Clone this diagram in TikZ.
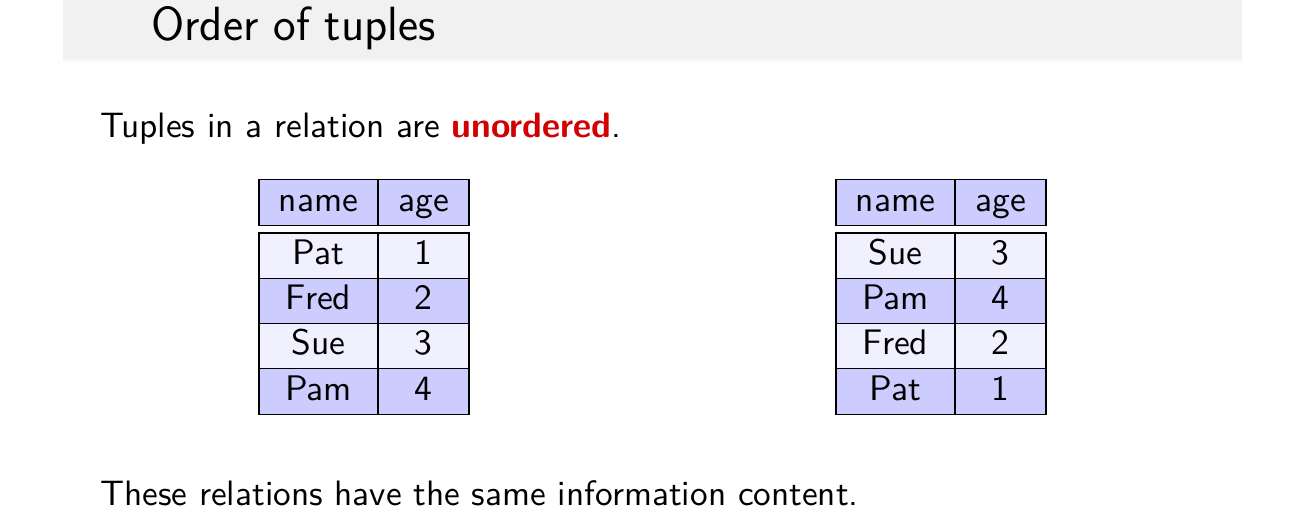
\documentclass[tikz,border=0pt]{standalone}
\usepackage{fontspec}
\newfontfamily\tenss[Extension=.otf,BoldFont=lmsans10-bold]{lmsans10-regular}
\usetikzlibrary{positioning}
\definecolor{barbg}{gray}{0.945}
\definecolor{hdr}{RGB}{204,204,255}
\definecolor{lite}{RGB}{240,240,255}
\definecolor{alertred}{RGB}{210,0,0}
\begin{document}
\begin{tikzpicture}[x=1pt,y=-1pt,
  cell/.style={draw=black,line width=1.1pt,inner sep=0pt,minimum height=45.3pt,
    text height=24pt,text depth=7pt,font=\tenss\fontsize{35.5}{42}\selectfont},
  namecol/.style={cell,minimum width=119pt},
  agecol/.style={cell,minimum width=91pt},
  hrow/.style={fill=hdr},
  lrow/.style={fill=lite},
  drow/.style={fill=hdr},
  bodytext/.style={anchor=base west,inner sep=0pt,font=\tenss\fontsize{35.3}{42}\selectfont},
  titletext/.style={anchor=base west,inner sep=0pt,font=\sffamily\fontsize{48}{56}\selectfont}
]
\useasboundingbox (0,0) rectangle (1305,524);
\fill[white] (0,0) rectangle (1305,524);
% title bar
\fill[barbg] (63,0) rectangle (1242,57);
\shade[top color=barbg,bottom color=white] (63,57) rectangle (1242,64);
\node[titletext] (title) at (151,41) {Order of tuples};
% body text
\node[bodytext] (intro) at (100,137) {Tuples in a relation are \textcolor{alertred}{\bfseries unordered}.};
\node[bodytext] (outro) at (100,505) {These relations have the same information content.};
% left table
\node[namecol,hrow] (lhn) at (318.5,202.5) {name};
\node[agecol,hrow]  (lha) at (423.5,202.5) {age};
\node[namecol,lrow] (l1n) at (318.5,255.6) {Pat};
\node[agecol,lrow]  (l1a) at (423.5,255.6) {1};
\node[namecol,drow] (l2n) at (318.5,300.9) {Fred};
\node[agecol,drow]  (l2a) at (423.5,300.9) {2};
\node[namecol,lrow] (l3n) at (318.5,346.2) {Sue};
\node[agecol,lrow]  (l3a) at (423.5,346.2) {3};
\node[namecol,drow] (l4n) at (318.5,391.5) {Pam};
\node[agecol,drow]  (l4a) at (423.5,391.5) {4};
% right table
\node[namecol,hrow] (rhn) at (895.5,202.5) {name};
\node[agecol,hrow]  (rha) at (1000.5,202.5) {age};
\node[namecol,lrow] (r1n) at (895.5,255.6) {Sue};
\node[agecol,lrow]  (r1a) at (1000.5,255.6) {3};
\node[namecol,drow] (r2n) at (895.5,300.9) {Pam};
\node[agecol,drow]  (r2a) at (1000.5,300.9) {4};
\node[namecol,lrow] (r3n) at (895.5,346.2) {Fred};
\node[agecol,lrow]  (r3a) at (1000.5,346.2) {2};
\node[namecol,drow] (r4n) at (895.5,391.5) {Pat};
\node[agecol,drow]  (r4a) at (1000.5,391.5) {1};
\end{tikzpicture}
\end{document}
